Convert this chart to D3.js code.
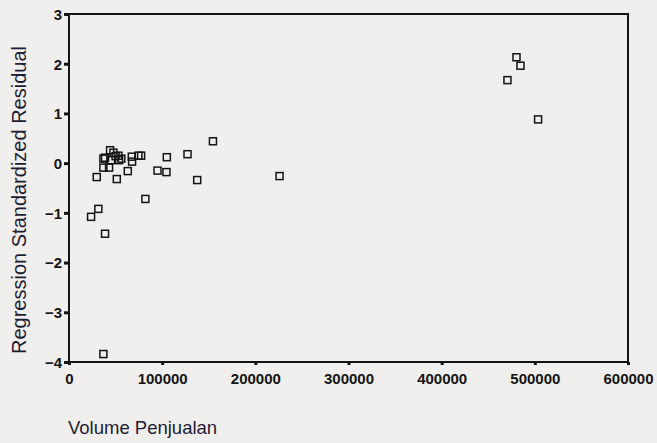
<!DOCTYPE html>
<html>
<head>
<meta charset="utf-8">
<script src="https://cdn.jsdelivr.net/npm/d3@7"></script>
<style>
  html, body { margin: 0; padding: 0; background: #f1efed; }
  svg { display: block; }
</style>
</head>
<body>
<div id="chart"></div>
<script>
// volume penjualan (x) vs regression standardized residual (y)
var volume = [
  23700, 31500, 38700, 36900, 29800, 36900, 43000, 38700, 36900, 44100,
  47700, 45200, 50000, 53800, 56200, 53000, 51300, 63100, 67400, 67700,
  74500, 77400, 82000, 95000, 104600, 105000, 127200, 137600, 154500, 226000,
  470600, 480300, 484600, 503500
];
var residual = [
  -1.08, -0.92, -1.42, -3.84, -0.28, -0.09, -0.09, 0.11, 0.09, 0.26,
  0.21, 0.06, 0.14, 0.06, 0.09, 0.15, -0.32, -0.16, 0.13, 0.03,
  0.15, 0.15, -0.72, -0.15, -0.18, 0.12, 0.18, -0.34, 0.44, -0.26,
  1.67, 2.13, 1.96, 0.88
];
var xTicks = [0, 100000, 200000, 300000, 400000, 500000, 600000];
var yTicks = [-4, -3, -2, -1, 0, 1, 2, 3];

var width = 657, height = 443
  , margin = {top: 14, right: 29, bottom: 81, left: 69}
  , ink = "#141414"
  ;

var svg = d3.select("#chart").append("svg")
  .attr("width", width)
  .attr("height", height);

var x = d3.scaleLinear().domain([0, 600000]).range([margin.left, width - margin.right]);
var y = d3.scaleLinear().domain([-4, 3]).range([height - margin.bottom, margin.top]);

// frame
svg.append("rect")
  .attr("x", x(0))
  .attr("y", y(3))
  .attr("width", x(600000) - x(0))
  .attr("height", y(-4) - y(3))
  .attr("fill", "none")
  .attr("stroke", ink)
  .attr("stroke-width", 2);

var xAxis = svg.append("g")
  .attr("transform", "translate(0," + y(-4) + ")")
  .call(d3.axisBottom(x).tickValues(xTicks).tickFormat(d3.format("d")).tickSize(3).tickPadding(5));

var yAxis = svg.append("g")
  .attr("transform", "translate(" + x(0) + ",0)")
  .call(d3.axisLeft(y).tickValues(yTicks).tickFormat(d3.format("d")).tickSize(5).tickPadding(2));

[xAxis, yAxis].forEach(function (g) {
  g.select(".domain").remove();
  g.selectAll("line").attr("stroke", ink).attr("stroke-width", 3);
  g.selectAll("text")
    .attr("fill", ink)
    .style("font-family", "'Liberation Sans', Arial, sans-serif")
    .style("font-size", "15px")
    .style("font-weight", "bold");
});
xAxis.selectAll("text").attr("dy", "0.9em");
yAxis.selectAll("text").attr("dy", "0.36em");

// points
var size = 7;
svg.append("g").selectAll("rect").data(volume)
  .enter().append("rect")
    .attr("x", function (d) { return x(d) - size / 2; })
    .attr("y", function (d, i) { return y(residual[i]) - size / 2; })
    .attr("width", size)
    .attr("height", size)
    .attr("fill", "none")
    .attr("stroke", ink)
    .attr("stroke-width", 1.5);

// axis titles
svg.append("text")
  .attr("transform", "translate(26,200) rotate(-90)")
  .attr("text-anchor", "middle")
  .attr("fill", "#1c1c34")
  .style("font-family", "'Liberation Sans', Arial, sans-serif")
  .style("font-size", "20px")
  .text("Regression Standardized Residual");

svg.append("text")
  .attr("x", 68)
  .attr("y", 434)
  .attr("fill", "#1c1c34")
  .style("font-family", "'Liberation Sans', Arial, sans-serif")
  .style("font-size", "18.5px")
  .text("Volume Penjualan");
</script>
</body>
</html>
